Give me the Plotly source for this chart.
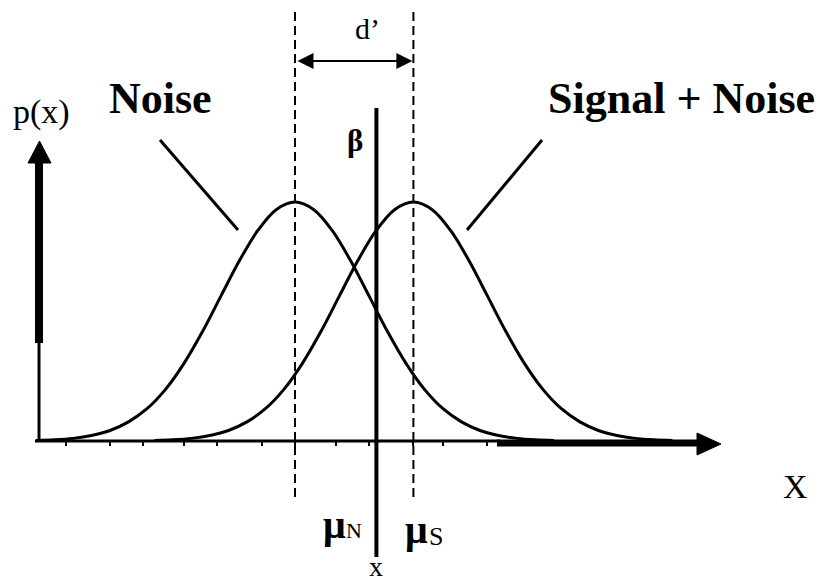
import plotly.graph_objects as go

# Signal detection model: noise and signal+noise distributions (unit sd)
mu_noise = 0.0
mu_signal = 1.6
sd = 1.0
criterion = 1.1

# Relative density (peak = 1) at offsets from the mean, in sd units
z_offsets = [-3.5, -3.25, -3.0, -2.75, -2.5, -2.25, -2.0, -1.75, -1.5,
             -1.25, -1.0, -0.75, -0.5, -0.25, 0.0, 0.25, 0.5, 0.75, 1.0,
             1.25, 1.5, 1.75, 2.0, 2.25, 2.5, 2.75, 3.0, 3.25, 3.5]
density = [0.002, 0.005, 0.011, 0.023, 0.044, 0.080, 0.135, 0.216, 0.325,
           0.458, 0.607, 0.755, 0.882, 0.969, 1.0, 0.969, 0.882, 0.755, 0.607,
           0.458, 0.325, 0.216, 0.135, 0.080, 0.044, 0.023, 0.011, 0.005, 0.002]

# Minor tick positions along the decision axis
x_ticks = [-3.1, -2.5, -2.05, -1.5, -1.05, -0.45, 0.0, 0.55, 1.0, 1.6, 2.0, 2.6]

W, H = 820, 581
X_RANGE = [-3.98649, 7.09459]
Y_RANGE = [-0.585774, 1.845188]


def P(px):
    return px / W


def Q(py):
    return 1 - py / H


def Y(py):
    # vertical page pixel -> data units
    return Y_RANGE[1] - py / H * (Y_RANGE[1] - Y_RANGE[0])


fig = go.Figure()

curve_line = dict(color="black", width=3, shape="spline", smoothing=1.0)
fig.add_trace(go.Scatter(
    x=[mu_noise + z * sd for z in z_offsets], y=density,
    mode="lines", line=curve_line, hoverinfo="skip"))
fig.add_trace(go.Scatter(
    x=[mu_signal + z * sd for z in z_offsets], y=density,
    mode="lines", line=curve_line, hoverinfo="skip"))

# Dashed lines at the two means
for mu in (mu_noise, mu_signal):
    fig.add_trace(go.Scatter(
        x=[mu, mu], y=[Y(12), Y(500)], mode="lines",
        line=dict(color="black", width=2, dash="9px,5px"), hoverinfo="skip"))

# Decision criterion
fig.add_trace(go.Scatter(
    x=[criterion, criterion], y=[Y(108), Y(557)], mode="lines",
    line=dict(color="black", width=4), hoverinfo="skip"))

shapes = []
# y axis: thin base, thick shaft, arrowhead
shapes.append(dict(type="line", xref="paper", yref="paper",
                   x0=P(39), x1=P(39), y0=Q(442), y1=Q(340),
                   line=dict(color="black", width=3)))
shapes.append(dict(type="line", xref="paper", yref="paper",
                   x0=P(39), x1=P(39), y0=Q(343), y1=Q(160),
                   line=dict(color="black", width=8)))
shapes.append(dict(type="path", xref="paper", yref="paper",
                   path=f"M {P(28)},{Q(163)} L {P(39.5)},{Q(141)} L {P(51)},{Q(163)} Z",
                   fillcolor="black", line=dict(color="black", width=1)))
# x axis: thin line, thick tail, arrowhead
shapes.append(dict(type="line", xref="paper", yref="paper",
                   x0=P(35), x1=P(500), y0=Q(441), y1=Q(441),
                   line=dict(color="black", width=3)))
shapes.append(dict(type="line", xref="paper", yref="paper",
                   x0=P(497), x1=P(700), y0=Q(443), y1=Q(443),
                   line=dict(color="black", width=7)))
shapes.append(dict(type="path", xref="paper", yref="paper",
                   path=f"M {P(697)},{Q(433)} L {P(721)},{Q(444)} L {P(697)},{Q(455)} Z",
                   fillcolor="black", line=dict(color="black", width=1)))
# label pointers
shapes.append(dict(type="line", xref="paper", yref="paper",
                   x0=P(160), y0=Q(140), x1=P(238), y1=Q(230),
                   line=dict(color="black", width=3)))
shapes.append(dict(type="line", xref="paper", yref="paper",
                   x0=P(542), y0=Q(140), x1=P(467), y1=Q(230),
                   line=dict(color="black", width=3)))

annotations = []
# d' double arrow between the means
annotations.append(dict(
    x=mu_signal, y=Y(61), ax=mu_noise, ay=Y(61), xref="x", yref="y",
    axref="x", ayref="y", showarrow=True, arrowside="end+start",
    arrowhead=2, startarrowhead=2, arrowsize=1.6, startarrowsize=1.6,
    arrowwidth=2, arrowcolor="black", text="", standoff=1, startstandoff=1))

serif = "Liberation Serif, Times New Roman, serif"


def label(text, px, py, size, bold=False):
    annotations.append(dict(
        x=P(px), y=Q(py), xref="paper", yref="paper", showarrow=False,
        text=f"<b>{text}</b>" if bold else text,
        font=dict(family=serif, size=size, color="black"),
        xanchor="center", yanchor="middle"))


label("d’", 367, 28, 30)
label("p(x)", 41, 112, 34)
label("Noise", 160, 98, 44, bold=True)
label("Signal + Noise", 681, 99, 44, bold=True)
label("β", 355, 140, 31, bold=True)
label("μ", 334, 524, 40, bold=True)
label("N", 354, 530, 22)
label("μ", 416, 529, 40, bold=True)
label("S", 436, 536, 26)
label("x", 376, 566, 28)
label("X", 795, 486, 34)

fig.update_layout(
    width=W, height=H, margin=dict(l=0, r=0, t=0, b=0, pad=0),
    paper_bgcolor="white", plot_bgcolor="white", showlegend=False,
    shapes=shapes, annotations=annotations,
    xaxis=dict(range=X_RANGE, anchor="free", position=1 - 441 / H,
               showgrid=False, zeroline=False, showline=False,
               ticks="outside", tickvals=x_ticks, ticklen=4, tickwidth=2,
               tickcolor="black", showticklabels=False, fixedrange=True),
    yaxis=dict(range=Y_RANGE, visible=False, fixedrange=True),
)

fig.write_html("out.html")
